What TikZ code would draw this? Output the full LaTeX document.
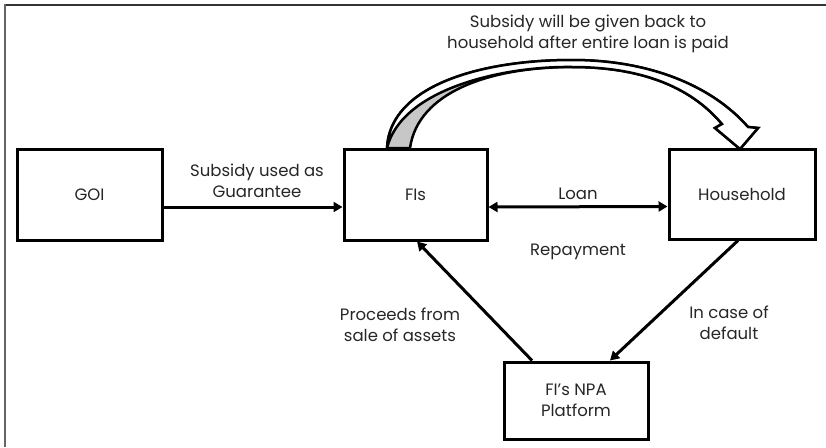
\documentclass[tikz,border=0pt]{standalone}
\usepackage{fontspec}
\setmainfont{Poppins}
\usetikzlibrary{arrows.meta}
\begin{document}
\begin{tikzpicture}[x=1pt,y=-1pt,
  box/.style={draw=black,line width=3pt,fill=white,inner sep=0pt},
  lbl/.style={align=center,font=\fontsize{16.5}{21.5}\selectfont,text=black!85},
  arr/.style={line width=3pt,-{Triangle[length=9pt,width=10pt]}},
  darr/.style={line width=3pt,{Triangle[length=9pt,width=10pt]}-{Triangle[length=9pt,width=10pt]}}]
\useasboundingbox (0,0) rectangle (826,447);
\draw[line width=2pt,black!80] (4,5) -- (826,5);
\draw[line width=2pt,black!60] (5,4) -- (5,447);

\node[box,minimum width=145pt,minimum height=91pt,lbl] (goi) at (89.5,194.5) {GOI};
\node[box,minimum width=143pt,minimum height=91pt,lbl] (fis) at (415.5,194.5) {FIs};
\node[box,minimum width=146pt,minimum height=90pt,lbl] (hh) at (742,194) {Household};
\node[box,minimum width=144pt,minimum height=77pt,lbl] (npa) at (576,400.5) {FI’s NPA\\Platform};

% curved hollow arrow
\filldraw[fill=black!22,draw=black,line width=2.5pt,line join=miter]
  (387,148) .. controls (390,86) and (480,60) .. (572,60)
  .. controls (650,60) and (712,86) .. (748,127)
  -- (758,128) -- (740,149) -- (715,128) -- (722,124)
  .. controls (690,86) and (640,67) .. (572,67)
  .. controls (490,67) and (418,92) .. (410,148) -- cycle;
\filldraw[fill=white,draw=black,line width=2.5pt,line join=miter]
  (387,148) .. controls (390,86) and (480,60) .. (572,60)
  .. controls (650,60) and (712,86) .. (748,127)
  -- (758,128) -- (740,149) -- (715,128) -- (722,124)
  .. controls (690,86) and (640,67) .. (572,67)
  .. controls (505,66) and (402,88) .. (387,148) -- cycle;

\draw[arr] ([yshift=-12.5pt]goi.east) -- ([yshift=-12.5pt]fis.west);
\draw[darr] ([yshift=-12.5pt]fis.east) -- ([yshift=-12.5pt]hh.west);
\draw[arr] ([xshift=-4pt]hh.south) -- ([xshift=34pt]npa.north);
\draw[arr] ([xshift=-44pt]npa.north) -- ([xshift=1.5pt]fis.south);

\node[lbl] (t1) at (257,181) {Subsidy used as\\Guarantee};
\node[lbl] (t2) at (578,194) {Loan};
\node[lbl] (t3) at (578,252) {Repayment};
\node[lbl] (t4) at (400,325) {Proceeds from\\sale of assets};
\node[lbl] (t5) at (729,323) {In case of\\default};
\node[lbl] (t6) at (588,34) {Subsidy will be given back to\\household after entire loan is paid};
\end{tikzpicture}
\end{document}
